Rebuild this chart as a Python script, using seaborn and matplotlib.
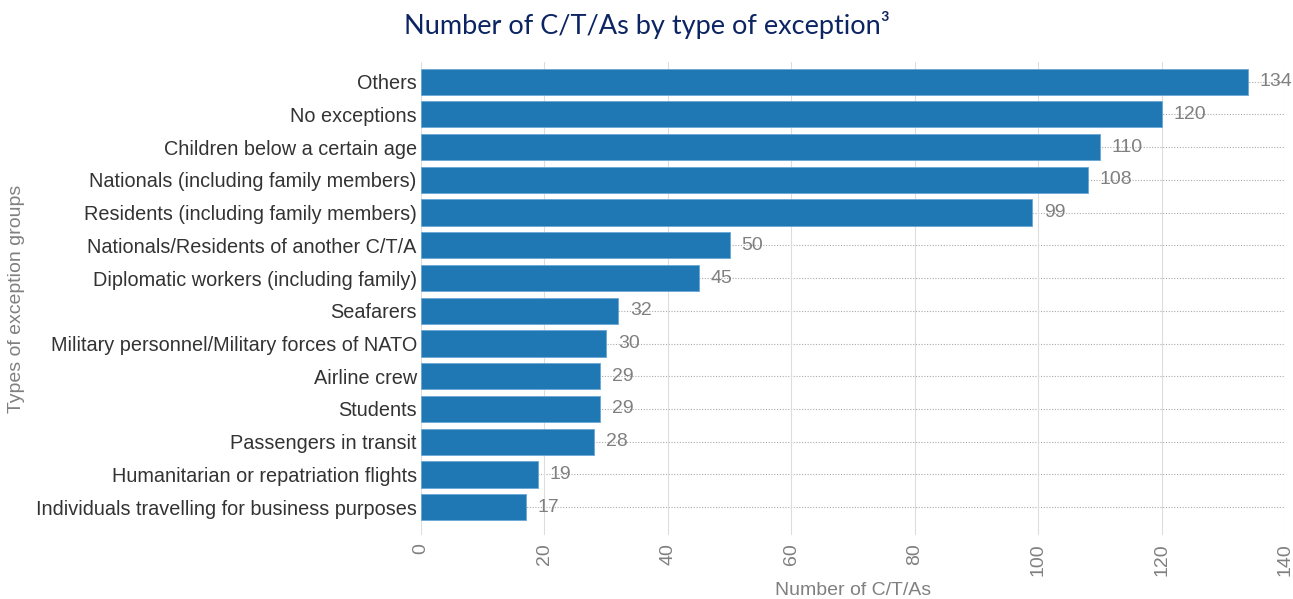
import matplotlib
matplotlib.use("Agg")
import matplotlib.pyplot as plt
import seaborn as sns
import pandas as pd

categories = ["Others", "No exceptions", "Children below a certain age",
              "Nationals (including family members)", "Residents (including family members)",
              "Nationals/Residents of another C/T/A", "Diplomatic workers (including family)",
              "Seafarers", "Military personnel/Military forces of NATO", "Airline crew",
              "Students", "Passengers in transit", "Humanitarian or repatriation flights",
              "Individuals travelling for business purposes"]
values = [134, 120, 110, 108, 99, 50, 45, 32, 30, 29, 29, 28, 19, 17]
x_ticks = [0, 20, 40, 60, 80, 100, 120, 140]

df = pd.DataFrame({"category": categories, "value": values})

sns.set_theme(style="white")
plt.rcParams['font.family'] = ['Liberation Sans', 'DejaVu Sans']

fig = plt.figure(figsize=(12.93, 5.99), dpi=100)
ax = fig.add_axes([0.3256, 0.1068, 0.6682, 0.7897])

# dotted horizontal gridlines at each category
for i in range(len(categories)):
    ax.axhline(i, color="#aaaaaa", linestyle=(0, (1, 1.5)), linewidth=0.8, zorder=0)
for t in x_ticks:
    ax.axvline(t, color="#dddddd", linewidth=0.8, zorder=0)

sns.barplot(data=df, x="value", y="category", orient="h", color="#1f77b4",
            saturation=1, width=0.8, edgecolor="#6aa6d6", linewidth=0.6, ax=ax, zorder=2)

for i, v in enumerate(values):
    ax.text(v + 1.9, i, str(v), va="center", ha="left", fontsize=14, color="#808080", zorder=3)

ax.set_xlim(0, 140)
ax.set_ylim(13.85, -0.6)
ax.set_xticks(x_ticks)
ax.set_xticklabels([str(t) for t in x_ticks], rotation=90, fontsize=14, color="#808080")
ax.tick_params(axis="y", labelsize=14.3, labelcolor="#333333", length=0, pad=3)
ax.tick_params(axis="x", length=0, pad=6)
for s in ax.spines.values():
    s.set_visible(False)
ax.set_xlabel("Number of C/T/As", fontsize=14, color="#808080", labelpad=4)
ax.set_ylabel("Types of exception groups", fontsize=14, color="#808080", labelpad=8)

fig.text(0.5, 0.958, "Number of C/T/As by type of exception\u00b3", ha="center", va="center",
         fontsize=19.5, color="#0c2461", family=["Lato", "DejaVu Sans"])

fig.savefig("out.png", dpi=100)
